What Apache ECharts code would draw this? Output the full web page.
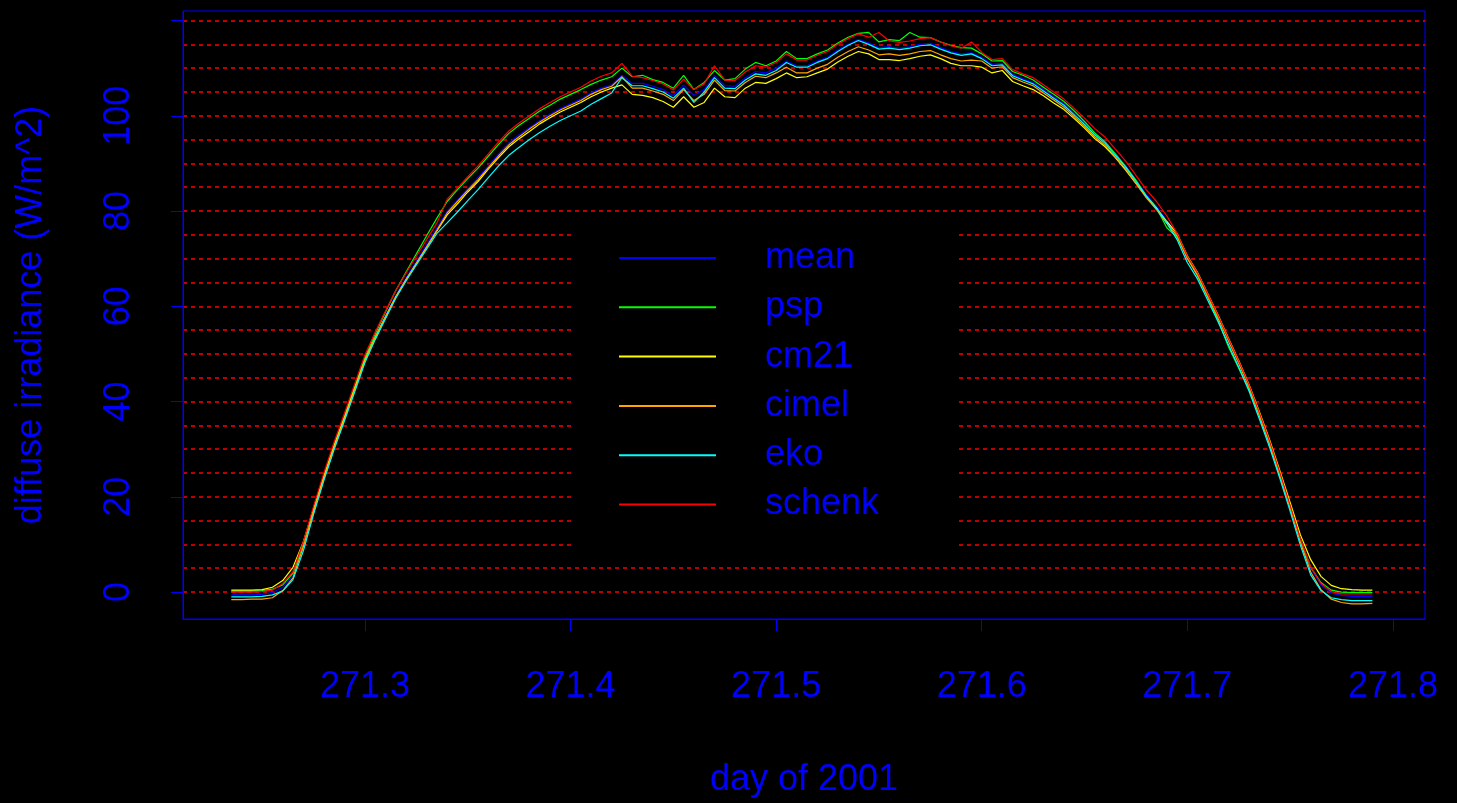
<!DOCTYPE html>
<html>
<head>
<meta charset="utf-8">
<title>diffuse irradiance</title>
<script src="https://cdn.jsdelivr.net/npm/echarts@6/dist/echarts.min.js"></script>
<style>
  html, body { margin: 0; padding: 0; background: #000; }
  #chart { width: 1457px; height: 803px; }
</style>
</head>
<body>
<div id="chart"></div>
<script>
// sampling: day 271.235 .. 271.790, every 0.005 day
var dayStart = 271.235;
var dayStep = 0.005;

var mean = [-0.6, -0.6, -0.6, -0.5, -0.1, 1.0, 3.5, 9.5,
    17, 24, 30.5, 36.5, 42.7, 48.8, 53.6, 58, 62.3, 66, 69.5, 73, 76.5,
    80, 82.3, 84.7, 87, 89.5, 92, 94.3, 96, 97.5, 99, 100.3, 101.5, 102.5, 103.5, 104.8, 105.8, 106.5,
    108.5, 106.8, 106.8, 106.2, 105.5, 104.2, 106.5, 104.3, 105.5, 108.5, 106.3, 106.2, 108, 109.3, 109, 110,
    111.5, 110.5, 110.5, 111.5, 112.3, 113.8, 115, 116, 115.3, 114.3, 114.5, 114.2, 114.5, 115, 115.2, 114.3, 113.5, 113, 113.2,
    112.3, 110.8, 111, 108.7, 107.8, 107, 105.5, 104, 102.5, 100.5, 98.5, 96.3, 94.5, 92, 89.5, 86.5, 83.5, 81, 78,
    74.8, 70, 66.5, 62, 57.5, 52.7, 48, 43, 37.2, 31.2, 24.7, 17.9, 10.9,
    5, 1.5, -0.2, -0.7, -0.9, -0.9, -0.9];

var psp = [0.2, 0.2, 0.2, 0.3, 0.6, 1.5, 4.0, 10.0,
    17.5, 24.5, 31, 37, 43.2, 49.3, 54.2, 58.8, 63.3, 67.2, 71, 74.8, 78.5,
    82, 84.5, 86.8, 89, 91.5, 94, 96.3, 98, 99.5, 101, 102.2, 103.5, 104.5, 105.5, 106.6, 107.5, 108.2,
    110, 108.2, 108.5, 107.6, 107, 105.8, 108.5, 105.5, 107, 109.5, 107.5, 107.8, 109.8, 111.2, 110.5, 111.5,
    113.5, 112, 112, 113, 113.8, 115.3, 116.5, 117.3, 117.5, 115.5, 116, 115.8, 117.5, 116.5, 116.4, 115.5, 114.8, 114.3, 114.2,
    113, 111.5, 111.6, 109.3, 108.5, 107.5, 106, 104.5, 103, 101, 98.8, 96.4, 94.5, 92, 89.3, 86.5, 83.2, 80.7, 76.5,
    74.5, 70.2, 66.3, 61.8, 57, 51.5, 47, 42.5, 37, 31, 24.5, 17.8, 11,
    5.2, 2, 0.4, 0, -0.1, -0.1, -0.1];

var cm21 = [0.4, 0.4, 0.4, 0.5, 1.0, 2.4, 5.2, 10.5,
    17.5, 24.3, 30.8, 36.6, 42.8, 48.8, 53.5, 57.8, 62, 65.6, 69, 72.4, 75.8,
    79.2, 81.5, 84, 86.2, 88.8, 91.2, 93.5, 95.2, 96.7, 98.3, 99.6, 100.8, 101.8, 102.8, 104, 105, 105.8,
    106.5, 104.5, 104.3, 103.8, 103, 101.8, 104, 101.8, 102.8, 105.8, 104, 103.8, 105.8, 107, 106.8, 107.8,
    109, 108, 108.2, 109, 109.8, 111.3, 112.5, 113.5, 113, 111.8, 111.8, 111.6, 112, 112.5, 112.8, 112, 111, 110.5, 110.5,
    110.2, 109, 109.5, 107.2, 106.3, 105.5, 104.2, 102.7, 101.3, 99.4, 97.4, 95.2, 93.5, 91.2, 88.6, 85.8, 83, 80.6, 77.8,
    75.3, 70.6, 67.1, 62.6, 58.1, 53.3, 48.6, 43.6, 37.9, 32, 25.5, 18.8, 12,
    6.8, 3.3, 1.4, 0.7, 0.5, 0.4, 0.4];

var cimel = [-1.6, -1.6, -1.5, -1.5, -1.2, 0.3, 3.0, 9.5,
    16.8, 23.8, 30.3, 36.3, 42.5, 48.6, 53.4, 57.8, 62, 65.6, 69, 72.5, 76,
    79.6, 82, 84.4, 86.6, 89.1, 91.6, 93.9, 95.6, 97.2, 98.7, 100, 101.2, 102.2, 103.2, 104.5, 105.5, 106.2,
    108.2, 105.8, 105.8, 105.2, 104.5, 103.2, 105.5, 103.2, 104.5, 107.5, 105.3, 105.2, 107, 108.3, 108, 109,
    110.2, 109, 109, 110, 110.8, 112.3, 113.5, 114.5, 113.8, 112.8, 113, 112.7, 113, 113.5, 113.7, 112.8, 112, 111.5, 111.7,
    111.5, 110, 110.3, 108, 107.1, 106.3, 104.8, 103.3, 101.8, 99.8, 97.8, 95.6, 93.8, 91.3, 88.8, 85.8, 82.8, 80.3, 77.4,
    74.8, 70, 66.5, 62, 57.5, 52.7, 48, 43, 37.2, 31.2, 24.6, 17.7, 10.5,
    4.2, 0.5, -1.5, -2.2, -2.5, -2.5, -2.4];

var eko = [-1.0, -1.0, -1.0, -0.9, -0.6, 0.2, 2.6, 8.6,
    16.3, 23.4, 29.9, 35.9, 42, 48.2, 53, 57.4, 61.7, 65.3, 68.7, 72, 75.3,
    77.5, 79.8, 82.2, 84.5, 87, 89.5, 91.7, 93.4, 95, 96.5, 97.8, 99, 100, 101, 102.4, 103.6, 104.8,
    108, 106.3, 106.3, 105.7, 105, 103.7, 105.8, 102.8, 105, 108, 105.8, 105.7, 107.5, 108.8, 108.5, 109.5,
    111.2, 110.2, 110.2, 111.2, 112, 113.5, 114.8, 115.8, 115, 114, 114.2, 113.9, 114.2, 114.7, 114.9, 114, 113.2, 112.7, 113,
    112, 110.5, 110.7, 108.4, 107.5, 106.7, 105.2, 103.7, 102.2, 100.2, 98.2, 96, 94.2, 91.7, 89.2, 86.2, 83.2, 80.6, 77.5,
    74, 69.2, 65.7, 61.2, 56.7, 51.9, 47.2, 42.2, 36.4, 30.4, 23.9, 17, 9.8,
    3.6, 0.3, -1.2, -1.6, -1.8, -1.8, -1.8];

var schenk = [0, 0, 0, 0.1, 0.4, 1.8, 4.3, 10.5,
    18, 25, 31.5, 37.5, 43.7, 49.8, 54.6, 59, 63.3, 67, 70.5, 74, 77.5,
    82.5, 84.8, 87.2, 89.5, 92, 94.5, 96.8, 98.5, 100, 101.5, 102.8, 104, 105, 106, 107.3, 108.3, 109,
    111, 108.3, 108, 107.4, 106.7, 105.4, 107.7, 105.5, 106.7, 110.5, 107.5, 107.4, 109.2, 110.5, 110.2, 111.2,
    113, 111.7, 111.7, 112.7, 113.5, 115, 116.2, 117.2, 116.5, 117.5, 115.7, 115.4, 115.7, 116.2, 116.4, 115.5, 114.7, 114.2, 115.5,
    113.3, 111.8, 112, 109.7, 108.8, 108, 106.5, 105, 103.5, 101.5, 99.5, 97.3, 95.5, 93, 90.5, 87.5, 84.5, 82, 79,
    75.3, 70.5, 67, 62.5, 58, 53.2, 48.5, 43.5, 37.7, 31.7, 25.1, 18.2, 11.2,
    5.3, 1.8, 0.1, -0.4, -0.4, -0.4, -0.4];

var names = ['mean', 'psp', 'cm21', 'cimel', 'eko', 'schenk'];
var colors = ['#0000ff', '#00ff00', '#ffff00', '#ffa500', '#00ffff', '#ff0000'];
var xTicks = [271.3, 271.4, 271.5, 271.6, 271.7, 271.8];
var yTicks = [0, 20, 40, 60, 80, 100, 120];
var yLabels = [0, 20, 40, 60, 80, 100];
var yGrid = [0, 5, 10, 15, 20, 25, 30, 35, 40, 45, 50, 55, 60,
    65, 70, 75, 80, 85, 90, 95, 100, 105, 110, 115, 120];

function pairs(values) {
    return values.map(function (v, i) {
        return [+(dayStart + i * dayStep).toFixed(3), v];
    });
}

var chart = echarts.init(document.getElementById('chart'));

var series = [];
[mean, psp, cm21, cimel, eko, schenk].forEach(function (vals, k) {
    series.push({
        name: names[k],
        type: 'line',
        data: pairs(vals),
        showSymbol: false,
        symbol: 'none',
        z: 2 + k,
        lineStyle: { color: colors[k], width: 1.2 },
        itemStyle: { color: colors[k] }
    });
});

var yMin = -5.66, yMax = 122;

var option = {
    backgroundColor: '#000000',
    animation: false,
    textStyle: { fontFamily: 'Liberation Sans, Arial, sans-serif' },
    grid: {
        left: 183, right: 32, top: 11, bottom: 183,
        show: true, borderColor: '#0000ff', borderWidth: 1
    },
    legend: {
        orient: 'vertical',
        left: 614,
        top: 235,
        data: names,
        icon: 'rect',
        itemWidth: 97,
        itemHeight: 2,
        itemGap: 13.3,
        z: 20,
        textStyle: {
            color: '#0000ff',
            fontSize: 36,
            lineHeight: 36,
            padding: [0, 0, 0, 44],
            fontFamily: 'Liberation Sans, Arial, sans-serif'
        }
    },
    graphic: [{
        type: 'rect',
        z: 10,
        shape: { x: 571, y: 213, width: 387, height: 339 },
        style: { fill: '#000000' }
    }],
    xAxis: {
        type: 'value',
        min: 271.2115,
        max: 271.8156,
        name: 'day of 2001',
        nameLocation: 'middle',
        nameGap: 143,
        nameTextStyle: { color: '#0000ff', fontSize: 36 },
        axisLine: { show: true, onZero: false, lineStyle: { color: '#0000ff', width: 1 } },
        axisTick: { show: true, length: 12, customValues: xTicks, lineStyle: { color: '#0000ff' } },
        axisLabel: {
            color: '#0000ff', fontSize: 36, margin: 50,
            customValues: xTicks,
            formatter: function (v) { return v.toFixed(1); }
        },
        splitLine: { show: false }
    },
    yAxis: [{
        type: 'value',
        min: yMin,
        max: yMax,
        name: 'diffuse irradiance (W/m^2)',
        nameLocation: 'middle',
        nameGap: 134,
        nameTextStyle: { color: '#0000ff', fontSize: 36 },
        axisLine: { show: true, onZero: false, lineStyle: { color: '#0000ff', width: 1 } },
        axisTick: { show: true, length: 12, customValues: yTicks, lineStyle: { color: '#0000ff' } },
        axisLabel: {
            color: '#0000ff', fontSize: 36, margin: 46, rotate: 90,
            customValues: yLabels
        },
        splitLine: { show: false },
        z: 5
    }, {
        // dashed horizontal guide lines every 5 units
        type: 'value',
        min: yMin,
        max: yMax,
        position: 'left',
        axisLine: { show: false },
        axisTick: { show: false, customValues: yGrid },
        axisLabel: { show: false, customValues: yGrid },
        splitLine: { show: true, lineStyle: { color: '#ff0000', type: [4, 4], width: 1.5 } },
        z: 0
    }],
    series: series
};
chart.setOption(option);
</script>
</body>
</html>
